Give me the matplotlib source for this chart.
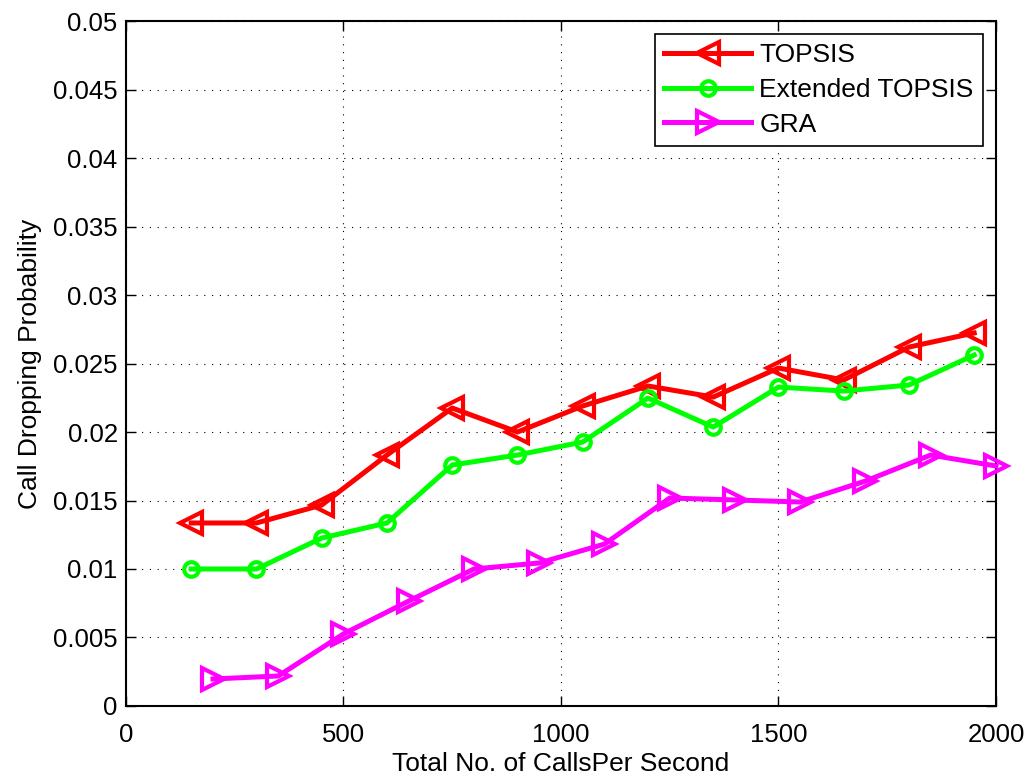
import matplotlib
matplotlib.use("Agg")
import matplotlib.pyplot as plt

plt.rcParams['font.family'] = ['Liberation Sans', 'DejaVu Sans']

x_topsis = [150, 300, 450, 600, 750, 900, 1050, 1200, 1350, 1500, 1650, 1800, 1950]
y_topsis = [0.01336, 0.01336, 0.01467, 0.01832, 0.02175, 0.02000, 0.02190, 0.02336,
            0.02255, 0.02467, 0.02380, 0.02620, 0.02723]
x_ext = [150, 300, 450, 600, 750, 900, 1050, 1200, 1350, 1500, 1650, 1800, 1950]
y_ext = [0.01000, 0.01000, 0.01226, 0.01336, 0.01759, 0.01832, 0.01927, 0.02248,
         0.02036, 0.02328, 0.02299, 0.02343, 0.02562]
x_gra = [200, 350, 500, 650, 800, 950, 1100, 1250, 1400, 1550, 1700, 1850, 2000]
y_gra = [0.00197, 0.00219, 0.00526, 0.00766, 0.01000, 0.01044, 0.01182, 0.01518,
         0.01504, 0.01489, 0.01642, 0.01832, 0.01752]

xticks = [0, 500, 1000, 1500, 2000]
yticks = [0, 0.005, 0.01, 0.015, 0.02, 0.025, 0.03, 0.035, 0.04, 0.045, 0.05]
ytick_labels = ['0', '0.005', '0.01', '0.015', '0.02', '0.025', '0.03', '0.035', '0.04', '0.045', '0.05']

fig = plt.figure(figsize=(10.31, 7.82), dpi=100)
ax = fig.add_axes([0.1222, 0.0972, 0.966 - 0.1222, 0.9731 - 0.0972])

tri = dict(linewidth=3.6, markersize=16, markerfacecolor='none', markeredgewidth=3, clip_on=False, zorder=3)
ax.plot(x_topsis, y_topsis, color='#ff0000', marker='<', label='TOPSIS', **tri)
ax.plot(x_ext, y_ext, color='#00ff00', marker='o', label='Extended TOPSIS',
        linewidth=3.6, markersize=10.5, markerfacecolor='none', markeredgewidth=3, clip_on=False, zorder=3)
ax.plot(x_gra, y_gra, color='#ff00ff', marker='>', label='GRA', **tri)

ax.set_xlim(0, 2000)
ax.set_ylim(0, 0.05)
ax.set_xticks(xticks)
ax.set_yticks(yticks)
ax.set_yticklabels(ytick_labels)
ax.tick_params(direction='in', top=True, right=True, labelsize=18.5, length=7, width=1, pad=6)
ax.tick_params(axis='x', pad=12)
ax.grid(True, color='black', linestyle=(0, (1, 6)), linewidth=0.8)
for s in ax.spines.values():
    s.set_linewidth(1.5)
ax.set_xlabel('Total No. of CallsPer Second', fontsize=19, labelpad=4)
ax.set_ylabel('Call Dropping Probability', fontsize=19, labelpad=8)

leg = ax.legend(loc='upper right', fontsize=19, frameon=True, fancybox=False,
                edgecolor='black', framealpha=1, handlelength=3.3, borderpad=0.35,
                labelspacing=0.4, handletextpad=0.3, borderaxespad=0.5)
leg.get_frame().set_linewidth(1.2)

fig.savefig('out.png', dpi=100)
